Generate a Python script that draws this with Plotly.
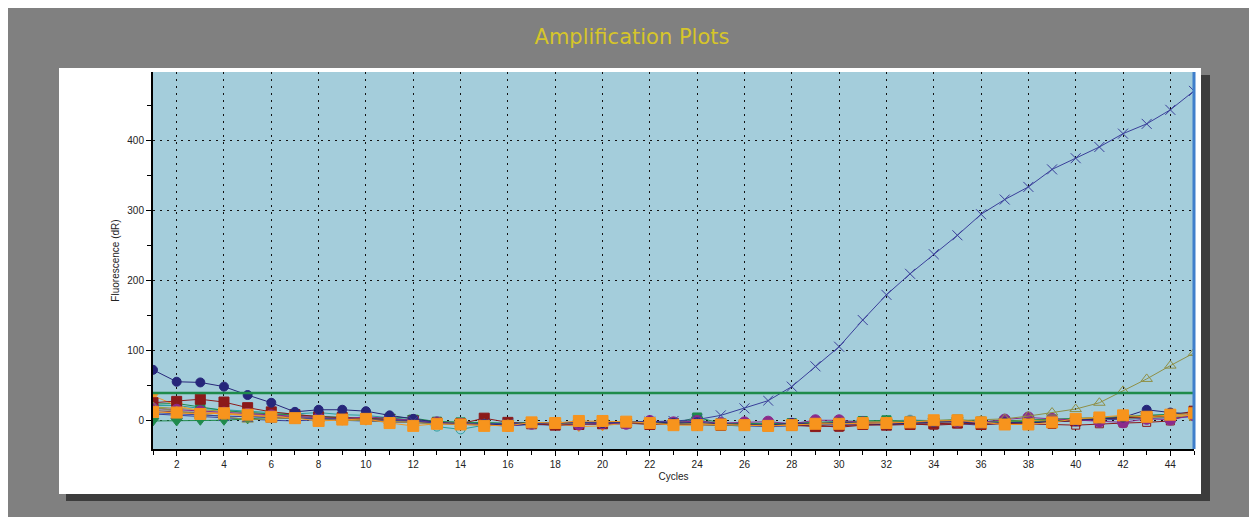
import plotly.graph_objects as go

cycles = list(range(1, 46))
threshold = 40

navy_circle = [73,56,55,49,37,26,13,16,16,14,8,3,-2,-5,-4,-6,-4,-3,-2,-3,-2,-1,-3,-2,-4,-5,-6,-3,-4,-2,-3,-5,-3,-2,-1,-4,-2,-3,-1,0,3,5,16,12,10]
amp_x = [12,10,9,7,6,5,4,3,3,2,1,0,-3,-5,-4,-4,-3,-3,-2,-2,-1,-1,0,2,8,18,29,49,78,106,144,180,210,238,265,295,316,334,359,375,391,410,424,444,471]
olive_tri = [20,14,10,6,2,3,4,3,2,1,0,-2,-4,-5,-4,-5,-3,-4,-3,-2,-3,-2,-3,-4,-6,-5,-6,-4,-3,-2,-2,-1,-2,-1,0,1,3,7,12,17,26,43,60,79,97]
darkred_sq = [26,28,31,27,19,13,9,6,5,4,2,0,-3,-4,4,-2,-4,-6,-5,-4,-3,-5,-4,-5,-6,-5,-7,-6,-8,-7,-5,-6,-5,-4,-3,-5,-4,-3,-2,0,3,4,6,8,14]
purple = [18,16,14,12,10,8,6,4,3,6,4,1,-2,-4,-6,-7,-4,-3,-5,-3,-4,0,-2,0,-3,-2,-1,-4,1,1,-2,-3,-2,0,-1,-2,2,5,3,1,-1,-2,3,2,8]
green_tridown = [0,0,1,1,3,5,4,3,3,2,6,4,-1,-2,-3,-3,-2,-4,-3,-2,-1,-2,-3,2,-5,-4,-3,-5,-4,-3,-2,-1,-1,0,1,-1,0,-1,0,1,3,5,7,8,12]
teal_open = [22,22,18,16,14,12,10,12,9,8,5,1,-8,-12,-6,-4,-3,-2,-3,-1,-2,-3,-4,-5,-6,-7,-5,-4,-3,-2,0,-1,1,0,-1,-2,-1,0,1,2,4,6,7,9,13]
gray_circle = [16,14,12,11,9,7,5,4,3,2,0,-1,-3,-4,-4,-5,-3,-3,-2,-2,-1,-2,-3,-3,-4,-4,-5,-4,-3,-2,-1,-1,2,0,0,-1,0,1,2,3,4,5,6,7,9]
orange_tridown = [36,22,14,10,7,6,4,2,1,1,0,-2,-4,-5,-6,-5,-3,-4,-8,-7,-3,-2,-3,-4,-5,-6,-6,-5,-3,-2,-2,-1,-3,-2,-1,-2,-1,0,1,2,3,4,5,6,8]
green_sq = [24,25,20,15,12,10,8,6,5,4,3,2,-1,-2,-3,-4,-3,-5,-4,-3,-2,-2,-3,5,-3,-4,-5,-3,-2,-1,0,1,-1,0,2,-1,0,1,2,3,5,6,8,9,11]
olive_sq = [20,18,15,13,11,9,7,5,4,3,2,0,-2,-3,-4,-4,-3,-2,-3,-2,-2,-3,-3,-4,-7,-5,-4,-5,-3,-2,-1,0,0,1,0,-1,0,0,1,2,3,4,5,6,7]
darkred_open = [15,13,12,10,9,7,5,4,3,2,1,-1,-3,-4,-5,-5,-4,-3,-3,-2,-3,-4,-3,-4,-5,-5,-6,-5,-6,-9,-6,-5,-4,-6,-4,-3,-4,-4,-5,-6,-4,-3,-2,0,12]
blue_open_tri = [10,8,6,4,2,1,0,2,1,0,-1,-2,-4,-5,-6,-7,-5,-6,-4,-5,-4,-3,-5,-5,-6,-7,-8,-7,-6,-5,-6,-4,-3,-5,-4,-6,-3,-2,-1,0,1,2,3,5,6]
orange_sq = [13,12,10,11,9,6,4,0,2,3,-3,-7,-4,-5,-7,-7,-2,-3,0,0,-1,-3,-6,-6,-5,-6,-7,-6,-4,-4,-3,-3,-2,1,1,-2,-5,-5,-2,3,5,8,6,9,11]

series = [
    (blue_open_tri, "#3A3F9A", "triangle-up-open", 8),
    (darkred_open, "#8B1A1A", "square-open", 8),
    (olive_sq, "#9B9B3F", "square", 9),
    (gray_circle, "#9A9A9A", "circle", 9),
    (teal_open, "#2A9D9D", "circle-open", 9),
    (green_sq, "#1F8A4C", "square", 9),
    (orange_tridown, "#F39A2A", "triangle-down", 10),
    (green_tridown, "#1F8A4C", "triangle-down", 10),
    (darkred_sq, "#8B1A1A", "square", 10),
    (purple, "#8B2A8B", "circle", 11),
    (olive_tri, "#8F8F45", "triangle-up-open", 10),
    (navy_circle, "#26267A", "circle", 9),
    (amp_x, "#3A3F9A", "x-thin-open", 10),
    (orange_sq, "#F7941D", "square", 11),
]

fig = go.Figure()
for vals, col, sym, sz in series:
    fig.add_trace(go.Scatter(
        x=cycles, y=vals, mode="lines+markers",
        line=dict(color=col, width=1),
        marker=dict(symbol=sym, size=sz, color=col, line=dict(color=col, width=1)),
        showlegend=False, hoverinfo="skip"))

fig.add_trace(go.Scatter(
    x=[cycles[0], cycles[-1]], y=[threshold, threshold], mode="lines",
    line=dict(color="#1E8B4A", width=2.5), showlegend=False, hoverinfo="skip"))

# page has an 8px body margin; positions below are window pixels
OFF = 8
W, H = 1257, 517
L, T = 153 - OFF, 72 - OFF
R = W - (1194 - OFF)
B = H - (449 - OFF)
pw, ph = W - L - R, H - T - B

def px_x(p):
    return (p - OFF - L) / pw

def px_y(p):
    return (H - B - (p - OFF)) / ph

shapes = [
    dict(type="rect", xref="paper", yref="paper", layer="below",
         x0=px_x(66), x1=px_x(1210), y0=px_y(501), y1=px_y(75),
         fillcolor="#3C3C3C", line=dict(width=0)),
    dict(type="rect", xref="paper", yref="paper", layer="below",
         x0=px_x(59), x1=px_x(1201), y0=px_y(494), y1=px_y(68),
         fillcolor="#FFFFFF", line=dict(width=0)),
    dict(type="rect", xref="paper", yref="paper", layer="below",
         x0=0, x1=1, y0=0, y1=1,
         fillcolor="#A4CDDB", line=dict(width=0)),
    dict(type="line", xref="paper", yref="paper", layer="above",
         x0=1, x1=1, y0=0, y1=1,
         line=dict(color="#3F7FCB", width=3)),
]

fig.update_layout(
    width=W, height=H,
    paper_bgcolor="#808080",
    plot_bgcolor="rgba(0,0,0,0)",
    margin=dict(l=L, r=R, t=T, b=B),
    shapes=shapes,
    title=dict(text="Amplification Plots", x=(632 - OFF) / W, xanchor="center",
               y=1 - (37 - OFF) / H, yanchor="middle", yref="container",
               font=dict(family="DejaVu Sans, Liberation Sans, Arial", size=21, color="#D6C52A")),
    font=dict(family="Liberation Sans, Arial", size=10, color="#222222"),
)

fig.update_xaxes(
    range=[1, 45], tick0=0, dtick=2,
    showgrid=True, gridcolor="#111111", griddash="2px,5px", gridwidth=1,
    zeroline=False, showline=True, linecolor="#000000", linewidth=2,
    ticks="outside", ticklen=5, tickcolor="#000000",
    minor=dict(dtick=1, tick0=0, ticks="outside", ticklen=4, tickcolor="#000000", showgrid=False),
    title=dict(text="Cycles", font=dict(size=10, color="#222222"), standoff=4),
    tickfont=dict(size=10, color="#222222"),
)
fig.update_yaxes(
    range=[-40, 498], tick0=0, dtick=100,
    showgrid=True, gridcolor="#111111", griddash="2px,5px", gridwidth=1,
    zeroline=False, showline=True, linecolor="#000000", linewidth=2,
    ticks="outside", ticklen=5, tickcolor="#000000",
    minor=dict(dtick=50, tick0=0, ticks="outside", ticklen=4, tickcolor="#000000", showgrid=False),
    title=dict(text="Fluorescence (dR)", font=dict(size=10, color="#222222"), standoff=6),
    tickfont=dict(size=10, color="#222222"),
)

fig.write_html("out.html")
